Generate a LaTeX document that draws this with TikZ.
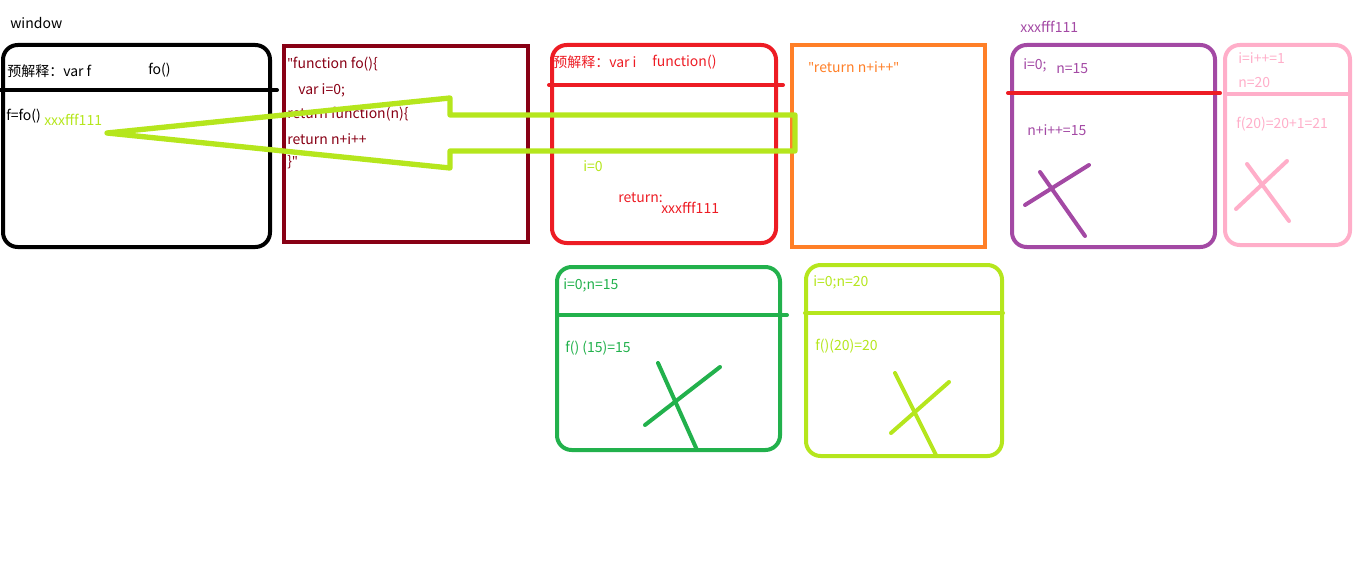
\documentclass[tikz,border=0pt]{standalone}
\usepackage{fontspec}
\setmainfont{Noto Sans CJK SC}
\newfontfamily\qfont{Noto Sans}
\newcommand{\qq}{{\qfont"}}
\definecolor{cblack}{HTML}{000000}
\definecolor{cdred}{HTML}{880015}
\definecolor{cred}{HTML}{ED1C24}
\definecolor{corange}{HTML}{FF7F27}
\definecolor{clime}{HTML}{B5E61D}
\definecolor{cpurple}{HTML}{A349A4}
\definecolor{cpink}{HTML}{FFAEC9}
\definecolor{cgreen}{HTML}{22B14C}
\begin{document}
\begin{tikzpicture}[x=0.75pt,y=-0.75pt,
  txt/.style={anchor=west,inner sep=0pt,font=\fontsize{10.5}{12}\selectfont},
  frame/.style={line width=3pt,rounded corners=11pt},
  sqframe/.style={line width=3pt},
  sep/.style={line width=3pt,line cap=round},
  cross/.style={line width=3pt,line cap=round}]
\useasboundingbox (0,0) rectangle (1358,567);
% window box
\node[txt] (wlabel) at (10,23) {window};
\draw[frame,cblack] (3,45) rectangle (270,247);
\draw[sep,cblack] (0,90) -- (277,90);
\node[txt] (wpre) at (7,71) {预解释：var f};
\node[txt] (wfo) at (148,70) {fo()};
\node[txt] (wf) at (6,116) {f=fo()};
\node[txt,text=clime] (wx) at (44,120) {xxxfff111};
% function text box
\draw[sqframe,cdred] (284,46) rectangle (528,242);
\node[txt,text=cdred] (t1) at (287,64) {\qq function fo()\{};
\node[txt,text=cdred] (t2) at (298,90) {var i=0;};
\node[txt,text=cdred] (t3) at (287,114) {return function(n)\{};
\node[txt,text=cdred] (t4) at (287,139) {return n+i++};
\node[txt,text=cdred] (t5) at (287,162) {\}\qq};
% fo() execution box
\draw[frame,cred] (552,45) rectangle (776,243);
\draw[sep,cred] (549,85) -- (783,85);
\node[txt,text=cred] (rpre) at (553,62) {预解释：var i};
\node[txt,text=cred] (rfun) at (652,62) {function()};
\node[txt,text=clime] (ri) at (583,166) {i=0};
\node[txt,text=cred] (rret) at (618,198) {return:};
\node[txt,text=cred] (rx) at (661,208) {xxxfff111};
% orange box
\draw[sqframe,corange] (792,45) rectangle (985,247);
\node[txt,text=corange] (ot) at (808,67) {\qq return n+i++\qq};
% big arrow
\draw[line width=4pt,clime,line join=round]
  (107,133) -- (450,98) -- (450,115) -- (795,115) -- (795,151)
  -- (450,151) -- (450,168) -- cycle;
% purple box
\node[txt,text=cpurple] (px) at (1020,27) {xxxfff111};
\draw[frame,cpurple] (1012,45) rectangle (1215,247);
\draw[sep,cred] (1008,93) -- (1220,93);
\node[txt,text=cpurple] (pi) at (1023,65) {i=0;};
\node[txt,text=cpurple] (pn) at (1056,69) {n=15};
\node[txt,text=cpurple] (pe) at (1027,130) {n+i++=15};
\draw[cross,cpurple] (1025,205) -- (1089,165);
\draw[cross,cpurple] (1040,172) -- (1085,236);
% pink box
\draw[frame,cpink] (1225,45) rectangle (1350,245);
\draw[sep,cpink] (1225,94) -- (1350,94);
\node[txt,text=cpink] (ki) at (1238,58) {i=i++=1};
\node[txt,text=cpink] (kn) at (1238,83) {n=20};
\node[txt,text=cpink] (kf) at (1236,124) {f(20)=20+1=21};
\draw[cross,cpink] (1236,209) -- (1287,161);
\draw[cross,cpink] (1247,164) -- (1289,221);
% green box
\draw[frame,cgreen] (557,267) rectangle (780,450);
\draw[sep,cgreen] (557,315) -- (787,315);
\node[txt,text=cgreen] (gi) at (563,285) {i=0;n=15};
\node[txt,text=cgreen] (gf) at (565,348) {f() (15)=15};
\draw[cross,cgreen] (645,425) -- (720,367);
\draw[cross,cgreen] (658,363) -- (697,450);
% lime box
\draw[frame,clime] (806,265) rectangle (1002,456);
\draw[sep,clime] (805,313) -- (1003,313);
\node[txt,text=clime] (li) at (813,282) {i=0;n=20};
\node[txt,text=clime] (lf) at (815,346) {f()(20)=20};
\draw[cross,clime] (891,433) -- (949,382);
\draw[cross,clime] (895,373) -- (936,455);
\end{tikzpicture}
\end{document}
